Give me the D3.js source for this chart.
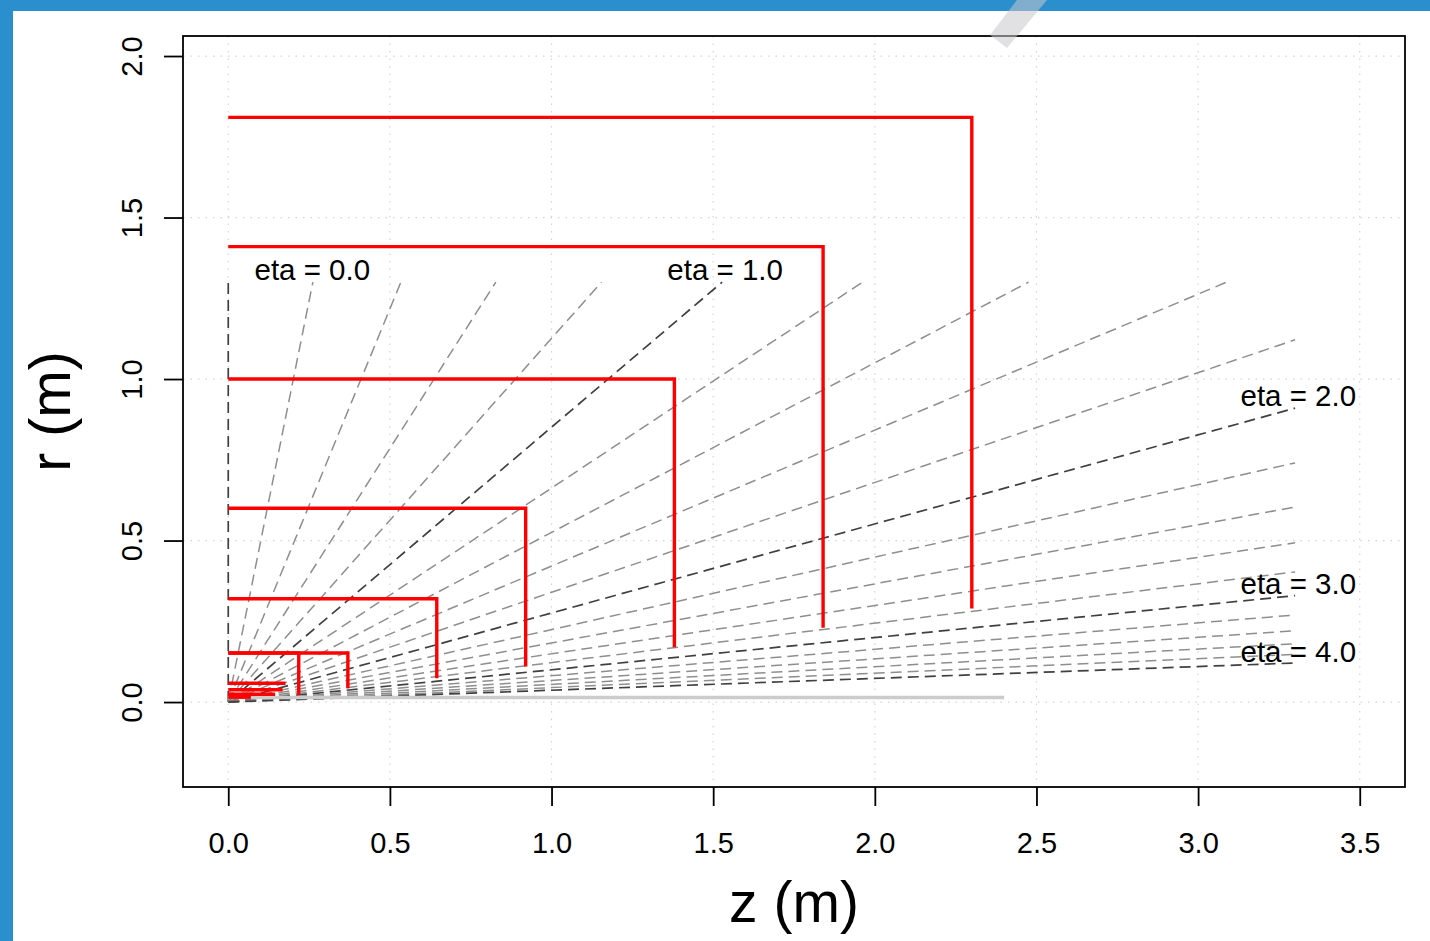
<!DOCTYPE html>
<html lang="en">
<head>
<meta charset="utf-8">
<title>Tracker layout r-z</title>
<script type="text/javascript" src="https://cdn.jsdelivr.net/npm/d3@7"></script>
<style>
  body { margin: 0; background: #2a8fcc; }
  svg { display: block; }
  text { font-family: "Liberation Sans", Arial, Helvetica, sans-serif; fill: #000; }
</style>
</head>
<body>
<script type="text/javascript">

// eta lines (every 0.2, integer ones drawn darker)
let etaValues = [0.0, 0.2, 0.4, 0.6, 0.8, 1.0, 1.2, 1.4, 1.6, 1.8, 2.0,
                 2.2, 2.4, 2.6, 2.8, 3.0, 3.2, 3.4, 3.6, 3.8, 4.0];
let etaRMax = 1.3;
let etaZMax = 3.3;

// red layers: barrel radius, half length, lower radius of the end piece
let layerR    = [1.81, 1.41, 1.00, 0.60, 0.32, 0.152, 0.152, 0.058, 0.038, 0.024, 0.015];
let layerZ    = [2.30, 1.84, 1.38, 0.92, 0.645, 0.37, 0.218, 0.177, 0.168, 0.145, 0.07];
let layerRmin = [0.29, 0.23, 0.17, 0.11, 0.074, 0.043, 0.022, 0.058, 0.038, 0.024, 0.015];

// grey beam-pipe like line
let pipeR = 0.014;
let pipeZ = [0, 2.40];

// labels
let labelText = ["eta = 0.0", "eta = 1.0", "eta = 2.0", "eta = 3.0", "eta = 4.0"];
let labelZ    = [0.26, 1.537, 3.31, 3.31, 3.31];
let labelR    = [1.338, 1.338, 0.95, 0.367, 0.157];

let xTicks = [0, 0.5, 1, 1.5, 2, 2.5, 3, 3.5];
let yTicks = [0, 0.5, 1, 1.5, 2];

let w = 1430;
let h = 941;
let box = {left: 183, right: 1405, top: 36, bottom: 787};

let svg = d3.select("body")
  .append("svg")
  .attr("width", w)
  .attr("height", h);

// white sheet on the blue background
svg.append("rect")
  .attr("x", 13).attr("y", 11)
  .attr("width", w - 13).attr("height", h - 11)
  .attr("fill", "#ffffff");

let xScale = d3.scaleLinear()
  .domain([-0.14, 3.64])
  .range([box.left, box.right]);

let yScale = d3.scaleLinear()
  .domain([-0.263, 2.062])
  .range([box.bottom, box.top]);

// dotted grid
let grid = svg.append("g")
  .attr("stroke", "#d3d3d3")
  .attr("stroke-width", 1.2)
  .attr("stroke-dasharray", "1.5,6");

grid.selectAll("line.gx")
  .data(xTicks)
  .enter()
  .append("line")
  .attr("class", "gx")
  .attr("x1", (d) => xScale(d)).attr("x2", (d) => xScale(d))
  .attr("y1", box.top).attr("y2", box.bottom);

grid.selectAll("line.gy")
  .data(yTicks)
  .enter()
  .append("line")
  .attr("class", "gy")
  .attr("y1", (d) => yScale(d)).attr("y2", (d) => yScale(d))
  .attr("x1", box.left).attr("x2", box.right);

// eta lines from the origin
function etaEnd(eta) {
  let s = Math.sinh(eta);
  let z = etaRMax * s;
  if (z <= etaZMax) return [z, etaRMax];
  return [etaZMax, etaZMax / s];
}

function isWhole(d) { return Math.abs(d - Math.round(d)) < 1e-6; }

svg.append("g")
  .selectAll("line")
  .data(etaValues)
  .enter()
  .append("line")
  .attr("x1", xScale(0))
  .attr("y1", yScale(0))
  .attr("x2", (d) => xScale(etaEnd(d)[0]))
  .attr("y2", (d) => yScale(etaEnd(d)[1]))
  .attr("stroke", (d) => isWhole(d) ? "#404040" : "#8e8e8e")
  .attr("stroke-width", (d) => isWhole(d) ? 1.7 : 1.5)
  .attr("stroke-dasharray", "11,6");

// grey line near the axis
svg.append("line")
  .attr("x1", xScale(pipeZ[0])).attr("x2", xScale(pipeZ[1]))
  .attr("y1", yScale(pipeR)).attr("y2", yScale(pipeR))
  .attr("stroke", "#cccccc")
  .attr("stroke-width", 3.5);

// red layers
let layers = layerR.map((r, i) => ({r: r, z: layerZ[i], rmin: layerRmin[i]}));

svg.append("g")
  .selectAll("path")
  .data(layers)
  .enter()
  .append("path")
  .attr("d", (d) => "M" + xScale(0) + "," + yScale(d.r)
    + "L" + xScale(d.z) + "," + yScale(d.r)
    + "L" + xScale(d.z) + "," + yScale(d.rmin))
  .attr("fill", "none")
  .attr("stroke", "#ff0000")
  .attr("stroke-width", 3.4);

// eta labels
svg.append("g")
  .selectAll("text")
  .data(labelText)
  .enter()
  .append("text")
  .attr("x", (d, i) => xScale(labelZ[i]))
  .attr("y", (d, i) => yScale(labelR[i]))
  .attr("dy", "0.36em")
  .attr("text-anchor", "middle")
  .attr("font-size", 29.5)
  .text((d) => d);

// plot box
svg.append("rect")
  .attr("x", box.left).attr("y", box.top)
  .attr("width", box.right - box.left)
  .attr("height", box.bottom - box.top)
  .attr("fill", "none")
  .attr("stroke", "#000")
  .attr("stroke-width", 1.8);

// x axis
let xAxis = d3.axisBottom(xScale)
  .tickValues(xTicks)
  .tickSize(19)
  .tickSizeOuter(0)
  .tickPadding(26)
  .tickFormat(d3.format(".1f"));

let gx = svg.append("g")
  .attr("transform", "translate(0," + box.bottom + ")")
  .call(xAxis);
gx.select(".domain").remove();
gx.selectAll("line").attr("stroke", "#000").attr("stroke-width", 1.8);
gx.selectAll("text")
  .attr("font-size", 29)
  .attr("font-family", "Liberation Sans, Arial, sans-serif")
  .attr("fill", "#000");

// y axis, labels turned like base R
let yAxis = d3.axisLeft(yScale)
  .tickValues(yTicks)
  .tickSize(19)
  .tickSizeOuter(0)
  .tickFormat(d3.format(".1f"));

let gy = svg.append("g")
  .attr("transform", "translate(" + box.left + ",0)")
  .call(yAxis);
gy.select(".domain").remove();
gy.selectAll("line").attr("stroke", "#000").attr("stroke-width", 1.8);
gy.selectAll("text")
  .attr("x", 0).attr("y", 0).attr("dy", null)
  .attr("transform", "translate(-41,0) rotate(-90)")
  .attr("text-anchor", "middle")
  .attr("font-size", 29)
  .attr("font-family", "Liberation Sans, Arial, sans-serif")
  .attr("fill", "#000");

// axis titles
svg.append("text")
  .attr("x", (box.left + box.right) / 2)
  .attr("y", 922)
  .attr("text-anchor", "middle")
  .attr("font-size", 57)
  .text("z (m)");

svg.append("text")
  .attr("transform", "translate(70," + (box.top + box.bottom) / 2 + ") rotate(-90)")
  .attr("text-anchor", "middle")
  .attr("font-size", 57)
  .text("r (m)");

// light tape strip at the top
svg.append("polygon")
  .attr("points", "1017,0 1047,0 1007,48 990,35")
  .attr("fill", "rgb(200,200,205)")
  .attr("fill-opacity", 0.55);

</script>
</body>
</html>
